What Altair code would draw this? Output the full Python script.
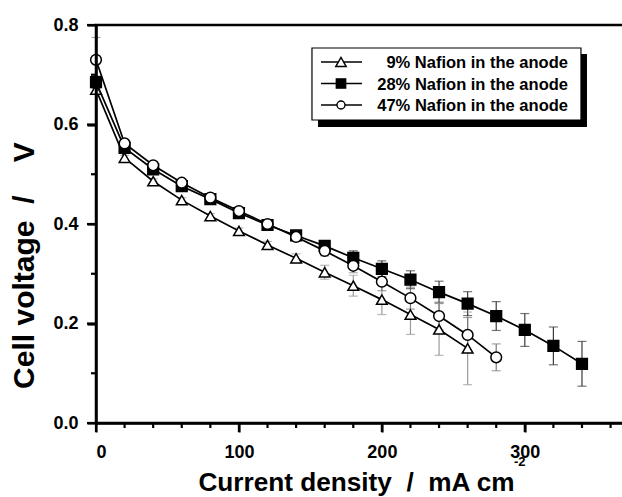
import altair as alt
import pandas as pd

# ---- data ----
current = [0, 20, 40, 60, 80, 100, 120, 140, 160, 180, 200, 220, 240, 260, 280, 300, 320, 340]

series_names = ["9% Nafion in the anode", "28% Nafion in the anode", "47% Nafion in the anode"]

v9 = [0.670, 0.533, 0.486, 0.448, 0.416, 0.386, 0.358, 0.331, 0.303, 0.276, 0.248, 0.218, 0.188, 0.150]
e9 = [0.008, 0.005, 0.005, 0.005, 0.005, 0.006, 0.007, 0.009, 0.014, 0.021, 0.030, 0.040, 0.052, 0.073]

v28 = [0.685, 0.553, 0.510, 0.476, 0.450, 0.422, 0.398, 0.377, 0.356, 0.332, 0.310, 0.288,
       0.263, 0.240, 0.215, 0.187, 0.155, 0.119]
e28 = [0.012, 0.006, 0.006, 0.006, 0.006, 0.006, 0.007, 0.008, 0.010, 0.014, 0.016, 0.018,
       0.022, 0.024, 0.029, 0.033, 0.038, 0.045]

v47 = [0.730, 0.562, 0.518, 0.483, 0.453, 0.426, 0.400, 0.374, 0.346, 0.316, 0.284, 0.251,
       0.215, 0.177, 0.132]
e47 = [0.045, 0.006, 0.006, 0.006, 0.006, 0.006, 0.007, 0.008, 0.010, 0.014, 0.018, 0.022,
       0.028, 0.035, 0.027]

x_major = [0, 100, 200, 300]
x_minor = [20, 40, 60, 80, 120, 140, 160, 180, 220, 240, 260, 280, 320, 340, 360]
y_major = [0.0, 0.2, 0.4, 0.6, 0.8]
y_minor = [0.1, 0.3, 0.5, 0.7]

x_title = "Current density\u00a0\u00a0/\u00a0\u00a0mA cm"
x_title_sup = "-2"
y_title = "Cell voltage\u00a0\u00a0/\u00a0\u00a0\u00a0\u00a0V"

point_shapes = ["triangle-up", "square", "circle"]
point_fills = ["white", "black", "white"]
legend_marker_sizes = [110, 64, 64]
bar_colors = ["#9a9a9a", "#3a3a3a", "#7a7a7a"]

# legend placement, in data units of the chart's own axes
legend_rows_v = [0.7256, 0.6824, 0.6392]
legend_box = {"x0": 151.1, "x1": 339.3, "y0": 0.6090, "y1": 0.7538}
legend_shadow = {"x0": 155.3, "x1": 343.5, "y0": 0.5950, "y1": 0.7417}
legend_line_x = (157.4, 186.1)
legend_marker_x = 171.4
legend_text_x = 330.2

rows = []
for name, vals, errs in zip(series_names, [v9, v28, v47], [e9, e28, e47]):
    for j, v, e in zip(current, vals, errs):
        rows.append({"series": name, "j": j, "v": v, "lo": v - e, "hi": v + e})
df = pd.DataFrame(rows)

FONT = "Liberation Sans"
W, H = 526, 398
XMAX, YMAX = 368, 0.8
PX_X = W / XMAX          # pixels per x unit
PX_Y = H / YMAX          # pixels per y unit

xscale = alt.Scale(domain=[0, XMAX], nice=False, zero=False)
yscale = alt.Scale(domain=[0, YMAX], nice=False)

x_axis = alt.Axis(
    values=x_major, format="d", domain=True, ticks=True, tickSize=9, labelPadding=11,
    title=x_title, titleY=67, titleX=260, titleAlign="center", titleBaseline="alphabetic",
    titleFontSize=26.2, zindex=1,
)
y_axis = alt.Axis(
    values=y_major, format=".1f", domain=True, ticks=True, tickSize=9, labelPadding=9,
    title=y_title, titleAngle=270, titleX=-63, titleY=240,
    titleAlign="center", titleBaseline="alphabetic", titleFontSize=30, zindex=1,
)

base = alt.Chart(df)
X = alt.X("j:Q", scale=xscale, axis=x_axis)
bar_color = alt.Color("series:N", scale=alt.Scale(domain=series_names, range=bar_colors), legend=None)

bars = base.mark_rule(strokeWidth=1.2).encode(
    x=X, y=alt.Y("lo:Q", scale=yscale, axis=y_axis), y2="hi:Q", color=bar_color,
)
cap_lo = base.mark_tick(orient="horizontal", size=9, thickness=1.2).encode(
    x=X, y=alt.Y("lo:Q", scale=yscale), color=bar_color,
)
cap_hi = base.mark_tick(orient="horizontal", size=9, thickness=1.2).encode(
    x=X, y=alt.Y("hi:Q", scale=yscale), color=bar_color,
)
lines = base.mark_line(color="black", strokeWidth=1.7).encode(
    x=X, y=alt.Y("v:Q", scale=yscale), detail="series:N",
)
points = base.mark_point(filled=True, stroke="black", strokeWidth=1.5, size=115, opacity=1).encode(
    x=X, y=alt.Y("v:Q", scale=yscale),
    shape=alt.Shape("series:N", scale=alt.Scale(domain=series_names, range=point_shapes), legend=None),
    fill=alt.Fill("series:N", scale=alt.Scale(domain=series_names, range=point_fills), legend=None),
)

# ---- frame and ticks drawn as polylines (path marks) through the scales ----
frame_pts = []
for k, (fx, fy) in enumerate([(XMAX + 3 / PX_X, YMAX), (0, YMAX), (0, 0), (XMAX + 3 / PX_X, 0)]):
    frame_pts.append({"seg": "frame", "k": k, "fx": fx, "fy": fy})
frame_df = pd.DataFrame(frame_pts)
frame = alt.Chart(frame_df).mark_line(color="black", strokeWidth=2.5, strokeJoin="miter").encode(
    x=alt.X("fx:Q", scale=xscale), y=alt.Y("fy:Q", scale=yscale),
    detail="seg:N", order="k:Q",
)

tk = []
for t in x_major:
    tk += [{"seg": f"xM{t}", "k": 0, "fx": t, "fy": 0}, {"seg": f"xM{t}", "k": 1, "fx": t, "fy": -9 / PX_Y}]
for t in x_minor:
    tk += [{"seg": f"xm{t}", "k": 0, "fx": t, "fy": 0}, {"seg": f"xm{t}", "k": 1, "fx": t, "fy": -5 / PX_Y}]
for t in y_major:
    tk += [{"seg": f"yM{t}", "k": 0, "fx": 0, "fy": t}, {"seg": f"yM{t}", "k": 1, "fx": -9 / PX_X, "fy": t}]
for t in y_minor:
    tk += [{"seg": f"ym{t}", "k": 0, "fx": 0, "fy": t}, {"seg": f"ym{t}", "k": 1, "fx": -5 / PX_X, "fy": t}]
tick_df = pd.DataFrame(tk)
ticks = alt.Chart(tick_df).mark_line(color="black", strokeWidth=2.2).encode(
    x=alt.X("fx:Q", scale=xscale), y=alt.Y("fy:Q", scale=yscale),
    detail="seg:N", order="k:Q",
)

# ---- legend built from marks ----
box_df = pd.DataFrame([legend_box])
shadow_df = pd.DataFrame([legend_shadow])
leg_df = pd.DataFrame({
    "series": series_names, "v": legend_rows_v,
    "lx0": [legend_line_x[0]] * 3, "lx1": [legend_line_x[1]] * 3,
    "mx": [legend_marker_x] * 3, "tx": [legend_text_x] * 3,
})

shadow = alt.Chart(shadow_df).mark_rect(color="black").encode(
    x=alt.X("x0:Q", scale=xscale), x2="x1:Q", y=alt.Y("y0:Q", scale=yscale), y2="y1:Q")
box = alt.Chart(box_df).mark_rect(fill="white", stroke="black", strokeWidth=1.2).encode(
    x=alt.X("x0:Q", scale=xscale), x2="x1:Q", y=alt.Y("y0:Q", scale=yscale), y2="y1:Q")
leg_lines = alt.Chart(leg_df).mark_rule(color="black", strokeWidth=1.6).encode(
    x=alt.X("lx0:Q", scale=xscale), x2="lx1:Q", y=alt.Y("v:Q", scale=yscale))
leg_marks = alt.Chart(leg_df).mark_point(filled=True, stroke="black", strokeWidth=1.4, opacity=1).encode(
    x=alt.X("mx:Q", scale=xscale), y=alt.Y("v:Q", scale=yscale),
    shape=alt.Shape("series:N", scale=alt.Scale(domain=series_names, range=point_shapes), legend=None),
    fill=alt.Fill("series:N", scale=alt.Scale(domain=series_names, range=point_fills), legend=None),
    size=alt.Size("series:N", scale=alt.Scale(domain=series_names, range=legend_marker_sizes), legend=None),
)
leg_text = alt.Chart(leg_df).mark_text(
    font=FONT, fontWeight="bold", fontSize=16.5, align="right", baseline="middle", color="black", dy=1
).encode(x=alt.X("tx:Q", scale=xscale), y=alt.Y("v:Q", scale=yscale), text="series:N")

one = alt.Data(values=[{}])
sup = alt.Chart(one).mark_text(
    text=x_title_sup, font=FONT, fontWeight="bold", fontSize=13, align="left",
    baseline="alphabetic", color="black",
).encode(x=alt.value(418), y=alt.value(441))

chart = alt.layer(
    bars, cap_lo, cap_hi, lines, points, frame, ticks,
    shadow, box, leg_lines, leg_marks, leg_text, sup
).properties(
    width=W, height=H,
    padding={"left": 96, "top": 25, "right": 0, "bottom": 74},
    autosize=alt.AutoSizeParams(type="none"),
).configure_view(stroke=None).configure_axis(
    grid=False, domainColor="black", domainWidth=2.5, tickColor="black", tickWidth=2.2,
    labelFont=FONT, labelFontWeight="bold", labelFontSize=18, labelColor="black",
    titleFont=FONT, titleFontWeight="bold", titleFontSize=26, titleColor="black",
)

chart.save("out.html", embed_options={"renderer": "svg", "actions": False})
